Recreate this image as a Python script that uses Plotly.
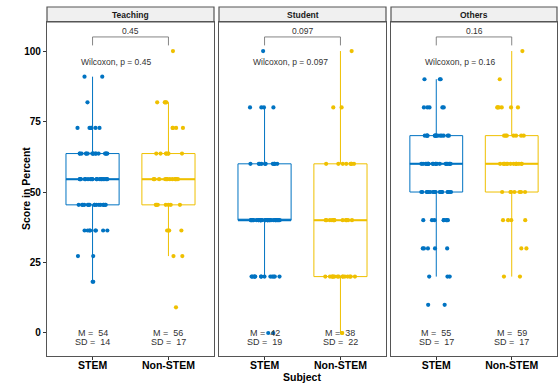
import numpy as np
import plotly.graph_objects as go

# ---- data -------------------------------------------------------------
facets = ["Teaching", "Student", "Others"]
subjects = ["STEM", "Non-STEM"]
colors = {"STEM": "#0073C2", "Non-STEM": "#EFC000"}

# score levels and number of respondents at each level
teaching_levels = [9.09, 18.18, 27.27, 36.36, 45.45, 54.55, 63.64, 72.73, 81.82, 90.91, 100.0]
teaching_stem_n = [0, 2, 2, 8, 16, 18, 16, 6, 1, 2, 0]
teaching_nonstem_n = [1, 0, 2, 4, 7, 12, 7, 4, 4, 0, 1]

student_levels = [0, 20, 40, 60, 80, 100]
student_stem_n = [2, 13, 30, 11, 4, 1]
student_nonstem_n = [2, 15, 12, 8, 2, 1]

others_levels = [10, 20, 30, 40, 50, 60, 70, 80, 90, 100]
others_stem_n = [2, 3, 5, 8, 19, 20, 14, 5, 3, 0]
others_nonstem_n = [0, 2, 2, 4, 7, 14, 7, 6, 1, 1]

# summary labels per facet: (STEM, Non-STEM)
mean_labels = {"Teaching": (54, 56), "Student": (42, 38), "Others": (55, 59)}
sd_labels = {"Teaching": (14, 17), "Student": (19, 22), "Others": (17, 17)}
p_labels = {"Teaching": "0.45", "Student": "0.097", "Others": "0.16"}

scores = {
    ("Teaching", "STEM"): np.repeat(teaching_levels, teaching_stem_n),
    ("Teaching", "Non-STEM"): np.repeat(teaching_levels, teaching_nonstem_n),
    ("Student", "STEM"): np.repeat(student_levels, student_stem_n),
    ("Student", "Non-STEM"): np.repeat(student_levels, student_nonstem_n),
    ("Others", "STEM"): np.repeat(others_levels, others_stem_n),
    ("Others", "Non-STEM"): np.repeat(others_levels, others_nonstem_n),
}

# ---- layout geometry ----------------------------------------------------
W, H = 558, 385
x_domains = [[47 / W, 214 / W], [219 / W, 386 / W], [391 / W, 557 / W]]
y_domain = [1 - 356 / H, 1 - 22 / H]
strip_top = 1 - 7 / H
y_range = [-8.16, 110.3]
box_w = 0.7
jitter_w = 0.2
FONT = "Liberation Sans, Arial, sans-serif"
TXT = "#333333"
BORDER = "#555555"


def box_stats(v):
    q1, med, q3 = np.percentile(v, [25, 50, 75])
    iqr = q3 - q1
    lo = v[v >= q1 - 1.5 * iqr - 1e-9].min()
    hi = v[v <= q3 + 1.5 * iqr + 1e-9].max()
    return q1, med, q3, lo, hi


def jitter_offsets(n, phase):
    # deterministic hash-based horizontal spread in [-jitter_w, jitter_w]
    k = np.arange(n, dtype=float) + 7.0 * phase
    h = np.sin(k * 12.9898 + phase * 78.233) * 43758.5453
    return ((h - np.floor(h)) - 0.5) * 2 * jitter_w


fig = go.Figure()
shapes, annotations = [], []

for i, facet in enumerate(facets):
    sfx = "" if i == 0 else str(i + 1)
    xa, ya = "x" + sfx, "y" + sfx
    for j, subj in enumerate(subjects):
        pos = j + 1
        v = np.asarray(scores[(facet, subj)], dtype=float)
        q1, med, q3, lo, hi = box_stats(v)
        c = colors[subj]
        # box and whiskers
        fig.add_trace(go.Box(
            x=[pos], q1=[q1], median=[med], q3=[q3], lowerfence=[lo], upperfence=[hi],
            width=box_w, whiskerwidth=0, boxpoints=False, fillcolor="white",
            line=dict(color=c, width=1), xaxis=xa, yaxis=ya,
            showlegend=False, hoverinfo="skip"))
        # thicker median bar
        fig.add_trace(go.Scatter(
            x=[pos - box_w / 2, pos + box_w / 2], y=[med, med], mode="lines",
            line=dict(color=c, width=2), xaxis=xa, yaxis=ya,
            showlegend=False, hoverinfo="skip"))
        # jittered observations
        fig.add_trace(go.Scatter(
            x=pos + jitter_offsets(len(v), 2 * i + j + 1), y=v, mode="markers",
            marker=dict(color=c, size=4.2, line=dict(width=0)),
            xaxis=xa, yaxis=ya, showlegend=False, hoverinfo="skip"))
        # mean / sd labels
        annotations.append(dict(
            x=pos, y=0, xref=xa, yref=ya, showarrow=False,
            text="M =\u00a0\u00a0%d" % mean_labels[facet][j],
            font=dict(family=FONT, size=9, color=TXT), yanchor="middle"))
        annotations.append(dict(
            x=pos, y=-3.2, xref=xa, yref=ya, showarrow=False,
            text="SD =\u00a0\u00a0%d" % sd_labels[facet][j],
            font=dict(family=FONT, size=9, color=TXT), yanchor="middle"))

    # comparison bracket
    shapes.append(dict(
        type="path", xref=xa, yref=ya,
        path="M 1,102 L 1,105 L 2,105 L 2,102",
        line=dict(color="#666666", width=0.8)))
    annotations.append(dict(
        x=1.5, y=107.2, xref=xa, yref=ya, showarrow=False, text=p_labels[facet],
        font=dict(family=FONT, size=8.5, color=TXT), yanchor="middle"))
    annotations.append(dict(
        x=0.82, y=96.1, xref=xa, yref=ya, showarrow=False,
        text="Wilcoxon, p = " + p_labels[facet], xanchor="left", yanchor="middle",
        font=dict(family=FONT, size=8.5, color=TXT)))

    # facet strip
    shapes.append(dict(
        type="rect", xref=xa + " domain", yref="paper", x0=0, x1=1,
        y0=y_domain[1], y1=strip_top, fillcolor="#F0F0F0",
        line=dict(color=BORDER, width=1.2), layer="below"))
    annotations.append(dict(
        x=0.5, y=(y_domain[1] + strip_top) / 2, xref=xa + " domain", yref="paper",
        showarrow=False, text="<b>%s</b>" % facet, yanchor="middle",
        font=dict(family=FONT, size=8.5, color="#1a1a1a")))

    axis_x = dict(
        domain=x_domains[i], range=[0.4, 2.6], tickvals=[1, 2], ticktext=subjects,
        ticks="outside", ticklen=3, tickcolor=TXT, showgrid=False, zeroline=False,
        showline=True, mirror=True, linecolor=BORDER, linewidth=1.2,
        ticklabelstandoff=-4,
        tickfont=dict(family=FONT, size=10.5, color="black", weight="bold"),
        anchor=ya, fixedrange=True)
    axis_y = dict(
        domain=y_domain, range=y_range, tickvals=[0, 25, 50, 75, 100],
        ticks="outside" if i == 0 else "", ticklen=3, tickcolor=TXT,
        showticklabels=(i == 0), showgrid=False, zeroline=False,
        showline=True, mirror=True, linecolor=BORDER, linewidth=1.2,
        tickfont=dict(family=FONT, size=10, color="black", weight="bold"),
        anchor=xa, fixedrange=True)
    fig.layout["xaxis" + sfx] = axis_x
    fig.layout["yaxis" + sfx] = axis_y

# axis titles
annotations.append(dict(
    x=18 / W, y=(y_domain[0] + y_domain[1]) / 2, xref="paper", yref="paper",
    text="<b>Score in Percent</b>", textangle=-90, showarrow=False,
    font=dict(family=FONT, size=10.5, color="black")))
annotations.append(dict(
    x=302 / W, y=1 - 377 / H, xref="paper", yref="paper", text="<b>Subject</b>",
    showarrow=False, yanchor="middle",
    font=dict(family=FONT, size=10.5, color="black")))

fig.update_layout(
    width=W, height=H, margin=dict(l=0, r=0, t=0, b=0),
    paper_bgcolor="white", plot_bgcolor="white",
    showlegend=False, shapes=shapes, annotations=annotations,
    font=dict(family=FONT))

fig.write_html("out.html", config={"displayModeBar": False})
